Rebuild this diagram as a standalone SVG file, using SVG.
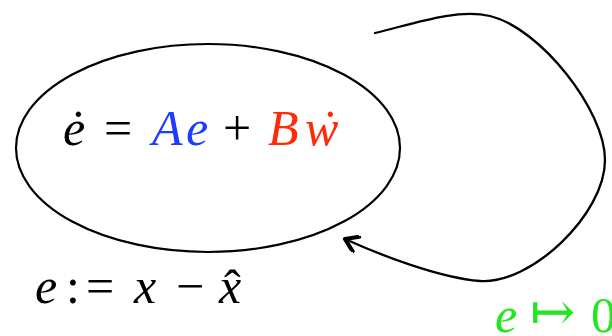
<svg xmlns="http://www.w3.org/2000/svg" width="612" height="336" viewBox="0 0 612 336">
<style>
text{font-family:"Liberation Serif","Times New Roman",serif;font-size:50px}
.i{font-style:italic}
.blue{fill:#1e3cff}
.red{fill:#ff2a0a}
.green{fill:#22e622}
.arrowglyph{font-family:"DejaVu Serif",serif;font-size:54px}
.edge{fill:none;stroke:#000;stroke-width:2.3;stroke-linecap:round}
</style>
<defs>
<marker id="arr" markerWidth="18" markerHeight="18" refX="15" refY="9" orient="auto" markerUnits="userSpaceOnUse">
<path d="M3,1 L15,9 L3,17" fill="none" stroke="#000" stroke-width="4.2" stroke-linecap="round" stroke-linejoin="round"/>
</marker>
</defs>
<g id="node-system">
<ellipse cx="208" cy="148" rx="192" ry="104" fill="none" stroke="#000" stroke-width="2.2"/>
<text class="i" x="63" y="145">e</text>
<text x="70" y="145">˙</text>
<text x="104" y="145">=</text>
<text class="i blue" x="152" y="145">A</text>
<text class="i blue" x="186" y="145">e</text>
<text x="223" y="145">+</text>
<text class="i red" x="268" y="145">B</text>
<text class="i red" x="305" y="145">w</text>
<text class="red" x="322" y="145">˙</text>
</g>
<g id="label-def">
<text class="i" x="35" y="303">e</text>
<text x="66" y="303">:</text>
<text x="86" y="303">=</text>
<text class="i" x="134" y="303">x</text>
<text x="176" y="303">−</text>
<text class="i" x="219" y="303">x</text>
<text x="224" y="305">ˆ</text>
</g>
<g id="label-conv">
<text class="i green" x="495" y="332">e</text>
<text class="arrowglyph green" x="530" y="330">↦</text>
<text class="green" x="591" y="332">0</text>
</g>
<g id="connectors">
<path class="edge" d="M375,33 C410,25 455,8 490,16 C540,28 605,110 605,160 C605,215 530,285 480,281 C440,278 380,255 345,239" marker-end="url(#arr)"/>
</g>
</svg>
